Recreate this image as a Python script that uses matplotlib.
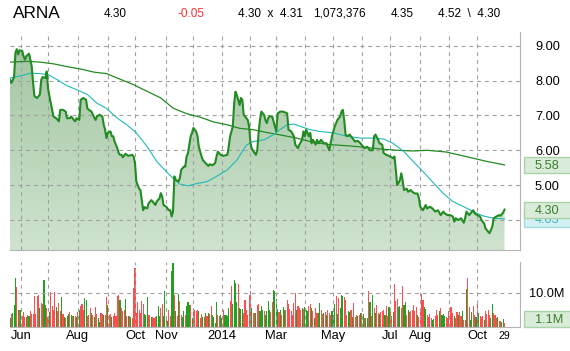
import numpy as np
import pandas as pd
import matplotlib
matplotlib.use("Agg")
import matplotlib.pyplot as plt
import matplotlib.transforms as mtransforms
from matplotlib.colors import LinearSegmentedColormap
from matplotlib.patches import Rectangle

plt.rcParams['font.family'] = ['Liberation Sans', 'DejaVu Sans']

# ---- data ----
ticker = "ARNA"
header_texts = ["4.30", "-0.05", "4.30  x  4.31", "1,073,376", "4.35", "4.52  \\  4.30"]

nyse_holidays = ["2013-05-27", "2013-07-04", "2013-09-02", "2013-11-28", "2013-12-25",
                 "2014-01-01", "2014-01-20", "2014-02-17", "2014-04-18", "2014-05-26",
                 "2014-07-04", "2014-09-01"]
first_day = "2013-05-21"
last_day = "2014-10-29"

month_labels = {"2013-06": "Jun", "2013-08": "Aug", "2013-10": "Oct", "2013-11": "Nov",
                "2014-01": "2014", "2014-03": "Mar", "2014-05": "May", "2014-07": "Jul",
                "2014-08": "Aug", "2014-10": "Oct"}

# close price (trading-day index, price)
price_day = [0, 1, 3, 4, 5, 6, 7, 9, 10, 11, 12, 14, 15, 16, 17, 18, 20, 22, 23, 24,
             26, 27, 28, 29, 31, 32, 34, 36, 37, 39, 41, 42, 44, 45, 47, 48, 49, 51, 52, 54,
             56, 57, 58, 60, 61, 63, 64, 66, 68, 69, 70, 71, 72, 74, 75, 76, 77, 79, 80, 81,
             82, 83, 85, 87, 90, 91, 92, 93, 95, 96, 97, 98, 99, 101, 102, 104, 105, 107, 108, 110,
             111, 112, 113, 115, 117, 118, 119, 120, 121, 122, 124, 125, 126, 128, 129, 130, 131, 133, 134, 135,
             137, 138, 139, 141, 142, 144, 146, 147, 149, 151, 152, 153, 155, 157, 160, 161, 162, 164, 165, 166,
             167, 169, 170, 171, 172, 174, 175, 176, 177, 178, 180, 181, 182, 183, 184, 185, 187, 188, 189, 190,
             191, 193, 194, 196, 197, 199, 201, 204, 205, 207, 209, 210, 212, 213, 215, 216, 217, 218, 220, 221,
             222, 223, 225, 226, 227, 229, 231, 233, 235, 237, 239, 241, 243, 244, 245, 246, 247, 248, 250, 252,
             254, 256, 258, 260, 261, 263, 265, 267, 268, 269, 271, 272, 274, 275, 277, 280, 282, 283, 284, 285,
             287, 288, 289, 290, 292, 293, 295, 296, 298, 300, 301, 302, 304, 306, 307, 309, 311, 313, 315, 317,
             319, 320, 322, 324, 326, 327, 328, 330, 332, 334, 335, 336, 338, 339, 341, 342, 344, 346, 347, 349,
             350, 352, 353, 355, 356, 358, 360, 361, 363, 364]
price = [8.02, 7.93, 8.10, 8.80, 8.90, 8.75, 8.87, 8.85, 8.70, 8.60, 8.70, 8.77, 8.60, 8.40, 7.93, 7.55, 7.50, 7.60, 8.02, 8.10,
         8.07, 8.26, 7.78, 7.55, 7.16, 6.97, 6.92, 6.83, 7.16, 7.16, 7.11, 6.92, 6.92, 6.97, 6.87, 6.83, 6.92, 6.87, 7.45, 7.50,
         7.45, 7.20, 7.16, 7.11, 7.02, 6.87, 6.97, 7.02, 6.97, 6.73, 6.59, 6.35, 6.50, 6.54, 6.40, 6.40, 6.25, 6.06, 5.92, 5.87,
         5.87, 5.80, 5.90, 5.84, 5.87, 5.82, 5.63, 5.10, 4.90, 4.86, 4.57, 4.28, 4.37, 4.33, 4.48, 4.57, 4.53, 4.43, 4.53, 4.62,
         4.77, 4.67, 4.43, 4.38, 4.28, 4.28, 4.10, 4.24, 5.25, 5.15, 5.10, 5.20, 5.44, 5.53, 5.53, 5.82, 5.92, 6.40, 6.50, 6.64,
         6.54, 6.40, 6.10, 5.82, 5.72, 5.63, 5.55, 5.60, 5.57, 5.63, 5.82, 5.96, 5.87, 5.84, 5.87, 6.10, 6.40, 6.68, 7.35, 7.68,
         7.58, 7.30, 7.50, 7.45, 7.02, 6.92, 6.87, 6.68, 6.20, 6.05, 5.92, 5.87, 6.00, 6.50, 6.87, 7.11, 7.02, 6.87, 6.78, 6.92,
         6.97, 6.97, 6.83, 6.54, 7.06, 7.11, 7.11, 7.06, 6.59, 6.54, 6.40, 6.16, 6.06, 6.16, 6.30, 6.54, 6.40, 6.59, 6.40, 6.50,
         6.20, 6.30, 6.16, 6.30, 6.20, 6.30, 6.20, 6.20, 6.00, 6.40, 6.68, 6.87, 6.97, 7.11, 7.16, 6.87, 6.45, 6.40, 6.45, 6.35,
         6.25, 6.27, 6.20, 6.10, 6.06, 6.10, 6.00, 6.00, 6.40, 6.45, 6.30, 6.20, 6.16, 5.92, 5.87, 5.82, 5.77, 5.82, 5.44, 5.00,
         5.14, 5.34, 5.14, 4.86, 4.90, 4.81, 4.86, 4.81, 4.76, 4.76, 4.62, 4.38, 4.28, 4.43, 4.33, 4.38, 4.33, 4.24, 4.28, 4.14,
         4.24, 4.19, 4.14, 4.14, 4.10, 3.95, 4.05, 4.00, 4.05, 3.92, 4.05, 4.24, 4.14, 4.19, 4.28, 4.19, 4.14, 4.10, 4.00, 3.90,
         3.76, 3.66, 3.62, 3.81, 4.05, 4.10, 4.14, 4.12, 4.21, 4.30]

# 50-day moving average (cyan)
ma50_day = [0, 8, 15, 22, 28, 35, 42, 49, 57, 64, 71, 79, 86, 93, 101, 108, 115, 120, 125, 131,
            138, 145, 152, 160, 167, 174, 179, 187, 194, 199, 204, 209, 214, 221, 228, 238, 248, 258, 268, 275,
            282, 290, 297, 304, 312, 319, 326, 334, 341, 348, 356, 364]
ma50 = [8.07, 8.14, 8.21, 8.20, 8.17, 8.02, 7.85, 7.74, 7.60, 7.35, 7.20, 6.92, 6.73, 6.50, 6.10, 5.68, 5.39, 5.20, 5.03, 4.98,
        5.05, 5.10, 5.25, 5.44, 5.72, 6.15, 6.25, 6.30, 6.45, 6.60, 6.73, 6.75, 6.68, 6.59, 6.54, 6.50, 6.40, 6.35, 6.35, 6.32,
        6.20, 5.96, 5.67, 5.39, 5.05, 4.76, 4.53, 4.38, 4.24, 4.12, 4.05, 4.03]

# 200-day moving average (green)
ma200_day = [0, 12, 22, 32, 42, 52, 62, 71, 81, 91, 101, 111, 120, 130, 140, 150, 160, 169, 179, 189,
             199, 211, 223, 236, 248, 260, 272, 285, 297, 307, 321, 329, 339, 351, 364]
ma200 = [8.53, 8.55, 8.53, 8.48, 8.40, 8.33, 8.24, 8.20, 8.04, 7.88, 7.69, 7.50, 7.21, 7.05, 6.95, 6.81, 6.73, 6.63, 6.59, 6.51,
         6.44, 6.35, 6.23, 6.16, 6.13, 6.09, 6.04, 6.00, 5.98, 6.00, 5.95, 5.88, 5.79, 5.68, 5.58]

# daily volume in millions, one per trading day
volume = [
    2.6, 3.8, 4.1, 6.6, 14.4, 11.7, 5.1, 5.1, 5.1, 3.1,
    4.4, 2.8, 3.0, 3.5, 3.1, 4.6, 3.8, 3.8, 9.0, 3.8,
    9.0, 9.3, 5.6, 7.1, 6.8, 13.9, 6.4, 5.6, 2.8, 4.4,
    10.3, 6.1, 5.1, 10.3, 5.8, 4.6, 7.1, 4.6, 8.7, 3.8,
    2.8, 2.5, 3.2, 3.8, 4.4, 3.4, 3.3, 3.1, 3.1, 2.8,
    4.4, 5.1, 6.1, 6.8, 5.1, 8.5, 7.8, 3.1, 3.6, 5.6,
    4.1, 3.6, 2.8, 5.8, 3.8, 2.6, 1.5, 4.1, 3.8, 3.6,
    3.6, 8.7, 6.6, 3.4, 3.8, 2.8, 3.1, 4.1, 3.1, 9.0,
    9.3, 8.0, 5.6, 4.8, 5.1, 8.3, 3.1, 3.1, 3.1, 2.8,
    2.6, 11.5, 17.4,
    4.1, 7.3, 5.1, 4.1, 7.5, 6.8, 3.8, 3.4, 8.7, 3.6,
    3.4, 2.8, 2.8, 2.5, 2.8, 3.1, 6.1, 3.1, 5.6, 6.8,
    3.1, 10.7, 3.1, 1.9, 4.9, 3.1, 16.4, 18.8, 9.3, 4.6,
    3.1, 9.7, 7.5, 3.4, 2.8, 4.6, 3.6, 6.1, 7.3, 6.4,
    6.4, 2.6, 5.6, 5.1, 4.8, 5.1, 4.8, 2.5, 3.8, 2.8,
    2.8, 4.1, 3.1, 4.1, 3.8, 6.1, 3.6, 2.8, 1.2, 7.4,
    3.6, 3.1, 3.4, 2.6, 5.1, 3.6, 3.4, 3.1, 5.6, 7.5,
    12.0, 6.8, 13.9, 12.9, 7.4, 12.5, 5.6, 5.3, 5.3, 4.1,
    8.0, 5.1, 3.6, 9.3, 10.5, 5.6, 4.1, 4.1, 4.1, 6.6,
    6.9, 4.6, 6.1,
    5.1, 4.6, 3.6, 4.8, 7.7, 5.1, 4.4, 7.4, 11.0, 10.7,
    8.3, 5.4, 4.4, 5.1, 3.4, 5.8, 5.1, 5.1, 8.0, 6.8,
    5.3, 4.8, 3.4, 7.1, 10.0, 5.1, 6.1, 5.6, 5.1, 5.6,
    5.4, 5.8, 5.1, 4.6, 6.1, 6.8, 5.6, 4.6, 2.6, 5.6,
    4.1, 4.1, 7.1, 5.1, 3.8, 4.1, 4.4, 3.6, 5.1, 4.1,
    3.4, 4.6, 3.4, 6.8, 9.0, 3.8, 8.5, 5.6, 9.3, 9.0,
    8.7, 8.0, 3.4, 4.8, 4.4, 5.1, 2.8, 7.1, 2.8, 3.6,
    3.1, 3.4, 4.1, 4.1, 3.8, 2.6, 2.6, 2.6, 10.7, 7.4,
    3.1, 9.3, 5.6, 4.1, 6.6, 4.1, 3.8, 4.4, 4.8, 5.1,
    3.6, 6.1, 3.1,
    5.8, 5.1, 3.1, 4.4, 12.6, 7.7, 8.3, 5.8, 6.1, 5.6,
    12.0, 6.6, 7.4, 3.6, 5.1, 4.4, 4.6, 5.1, 6.6, 4.6,
    5.8, 3.4, 2.8, 4.4, 9.7, 8.0, 5.8, 5.4, 3.4, 2.8,
    3.8, 2.6, 2.2, 2.4, 3.1, 5.1, 3.4, 4.6, 5.6, 3.4,
    3.8, 3.1, 2.8, 2.6, 4.6, 5.9, 5.9, 4.1, 3.1, 2.6,
    4.4, 3.4, 4.4, 3.1, 4.6, 2.2, 2.2, 11.3, 14.4, 5.8,
    2.2, 4.4, 6.1, 3.4, 2.8, 7.1, 4.1, 3.1, 2.8, 3.1,
    2.2, 4.8, 3.8, 5.1, 3.6, 2.6, 6.8, 4.1, 3.6, 2.6,
    2.8, 1.9, 1.9, 1.5, 2.4, 1.1,
]
# g = up day, r = down day
vol_dir = ("grgggrgrgr" "rrgrgrrrrr" "rrgrrggrrg" "rrrrgrrrgr" "grggrgrgrg"
           "rgrrrggrrr" "grgrrggrrg" "rrgrrgrrrr" "rgrrrgrgrg" "rrr"
           "rrrrrrgggr" "rgrrrgggrr" "ggrgrrggrg" "rgrrggrggg" "rgrrrrgrrg"
           "rgrgrrgggg" "rrggrggggr" "rggggrgggr" "rrrrrgrrgr" "rgg"
           "grggggrrgg" "ggrgrggrrr" "rrrrrgrrrg" "rgggrrgrgr" "rggrrgrgrr"
           "rgggrgrggg" "rrrggrgrrr" "grgrgrggrg" "rgrgrrgrrr" "grr"
           "grrgrrrggr" "rggrgrrrrr" "rgrrrrggrr" "rrggrrrgrg" "ggrrrrrrgr"
           "rgrrgrrgrr" "ggrrgrgrrr" "grrrrggrrr" "grrggr")

# ---- trading calendar ----
days = pd.bdate_range(first_day, last_day, freq="C", holidays=nyse_holidays)
n = len(volume)
days = days[:n]
periods = days.to_period("M")
month_starts = [i for i in range(1, n) if periods[i] != periods[i - 1]]
month_text = [month_labels.get(str(periods[i]), "") for i in month_starts]

# ---- style ----
W, H = 570, 351
line_green = "#228b22"
ma_cyan = "#22b8b8"
up_col = "#22a022"
dn_col = "#ff4d4d"
grid_col = "#a0a0a0"
spine_col = "#b4b4b4"

fig = plt.figure(figsize=(W / 100, H / 100), dpi=100)
ax = fig.add_axes([10 / W, 1 - 250 / H, 510 / W, 218 / H])
axv = fig.add_axes([10 / W, 1 - 327 / H, 510 / W, 65 / H])

xmax = (520 - 9.83) / 1.359
ylo, yhi = 3.139, 9.393

# gradient fill under price
cmap = LinearSegmentedColormap.from_list("fill", ["#cfe3cf", "#a4c7a4"])
grad = np.linspace(0, 1, 256).reshape(-1, 1)
im = ax.imshow(grad, extent=[price_day[0], price_day[-1], ylo, max(price)], origin="lower",
               aspect="auto", cmap=cmap, zorder=1, interpolation="bilinear")
poly = ax.fill_between(price_day, price, ylo, facecolor="none", edgecolor="none")
im.set_clip_path(poly.get_paths()[0], transform=ax.transData)

ax.plot(ma200_day, ma200, color=line_green, lw=0.9, zorder=3)
ax.plot(ma50_day, ma50, color=ma_cyan, lw=0.8, zorder=3)
ax.plot(price_day, price, color=line_green, lw=1.5, zorder=4)

ax.set_xlim(0, xmax)
ax.set_ylim(ylo, yhi)

for a in (ax, axv):
    a.set_axisbelow("line")
    a.set_xticks(month_starts)
    a.grid(True, which="major", color=grid_col, lw=0.8, ls=(0, (3.5, 3.5)))
    for s in ("left", "top"):
        a.spines[s].set_visible(False)
    for s in ("right", "bottom"):
        a.spines[s].set_color(spine_col)
        a.spines[s].set_linewidth(0.8)
    a.yaxis.tick_right()
    a.tick_params(length=0)

ax.set_xticklabels([])
ax.set_yticks([4, 5, 6, 7, 8, 9])
ax.set_yticklabels([f"{v:.2f}" for v in [4, 5, 6, 7, 8, 9]], fontsize=9.2)
ax.tick_params(axis="y", pad=10.8)

# volume bars
colors = [up_col if c == "g" else dn_col for c in vol_dir]
axv.bar(range(n), volume, width=0.8, color=colors, zorder=1)
axv.set_xlim(0, xmax)
axv.set_ylim(0, 19.1)
axv.set_yticks([10])
axv.set_yticklabels(["10.0M"], fontsize=9.2)
axv.tick_params(axis="y", pad=6.5)
axv.set_xticklabels(month_text, fontsize=9.3)
axv.tick_params(axis="x", which="major", pad=2)
axv.set_xticks([n - 1], minor=True)
axv.set_xticklabels([str(days[-1].day)], minor=True, fontsize=7.6)
axv.tick_params(axis="x", which="minor", length=0, pad=2.7)

# last-value boxes on the right (later boxes sit on top of earlier ones)
def value_box(a, value, text, face, edge, tcolor, height_px, px_per_unit, z):
    tr = mtransforms.blended_transform_factory(fig.transFigure, a.transData)
    h = height_px / px_per_unit
    a.add_patch(Rectangle((524 / W, value - h / 2), 60 / W, h, transform=tr,
                          facecolor=face, edgecolor=edge, lw=1, clip_on=False, zorder=z))
    a.text(535 / W, value, text, transform=tr, ha="left", va="center_baseline",
           fontsize=9.2, color=tcolor, clip_on=False, zorder=z + 0.5)

ppu = 218 / (yhi - ylo)
value_box(ax, ma200[-1], f"{ma200[-1]:.2f}", "#d9ebd9", "#a9d2a9", "#3a7d2a", 16, ppu, 5)
value_box(ax, ma50[-1], f"{ma50[-1]:.2f}", "#d4f0f2", "#a0dde2", "#3cb4bc", 16, ppu, 6)
value_box(ax, price[-1], f"{price[-1]:.2f}", "#d9ebd9", "#a9d2a9", "#3a7d2a", 16, ppu, 7)
vppu = 65 / 19.1
value_box(axv, max(volume[-1], 2.45), f"{volume[-1]:.1f}M", "#d9ebd9", "#a9d2a9", "#3a7d2a", 16, vppu, 5)

# header line
fig.text(12.7 / W, 1 - 18.3 / H, ticker, fontsize=12.4, va="baseline", ha="left")
header_x = [104, 177.5, 238, 313.5, 391, 438]
for xpx, s in zip(header_x, header_texts):
    fig.text(xpx / W, 1 - 16.7 / H, s, fontsize=8.5, va="baseline", ha="left",
             color="#ff3030" if s.startswith("-") else "#000000")

fig.savefig("out.png", dpi=100)
